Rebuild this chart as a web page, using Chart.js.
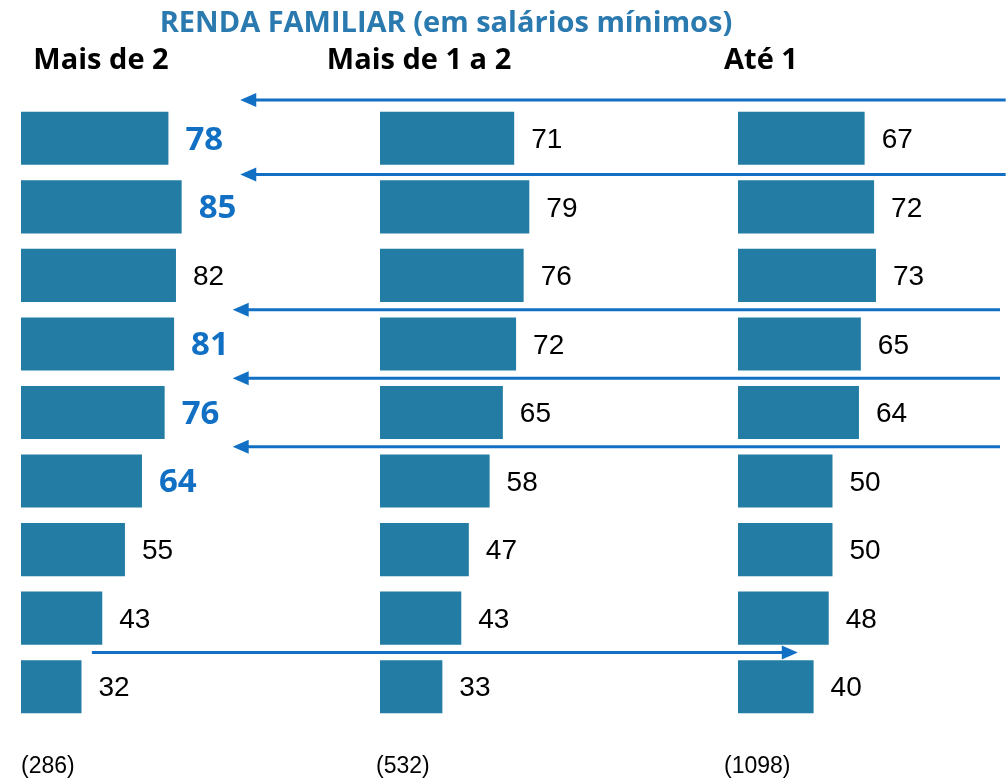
<!DOCTYPE html>
<html lang="pt-BR">
<head>
<meta charset="utf-8">
<title>Renda familiar</title>
<script src="https://cdn.jsdelivr.net/npm/chart.js@4/dist/chart.umd.min.js"></script>
<style>
  html, body { margin: 0; padding: 0; background: #ffffff; }
  #wrap { position: relative; width: 1006px; height: 782px; }
</style>
</head>
<body>
<div id="wrap"><canvas id="rendaChart"></canvas></div>
<script>
// Data
const rows = ['1', '2', '3', '4', '5', '6', '7', '8', '9'];
const groups = ['Mais de 2', 'Mais de 1 a 2', 'Até 1'];
const sampleSizes = ['(286)', '(532)', '(1098)'];
const maisDe2 = [78, 85, 82, 81, 76, 64, 55, 43, 32];
const maisDe1a2 = [71, 79, 76, 72, 65, 58, 47, 43, 33];
const ate1 = [67, 72, 73, 65, 64, 50, 50, 48, 40];
// rows of the first group shown in bold blue
const highlightMaisDe2 = [0, 1, 3, 4, 5];

const barColor = '#237ca4';
const accentBlue = '#1170c4';
const titleBlue = '#2a7ab0';

// every panel shares the same pixels-per-unit, each panel starts further right
const AREA_WIDTH = 985;
const PX_PER_UNIT = 1.89;
const panelStart = [0, 359, 717];

function panelScale(i) {
    return {
        type: 'linear',
        display: false,
        min: -panelStart[i] / PX_PER_UNIT,
        max: (AREA_WIDTH - panelStart[i]) / PX_PER_UNIT
    };
}

// arrows: row position (category index) and ends in units of the first panel
const arrows = [
    { row: -0.56, from: 521, to: 116 },
    { row: 0.53, from: 521, to: 116 },
    { row: 2.5, from: 518, to: 112 },
    { row: 3.5, from: 518, to: 112 },
    { row: 4.5, from: 518, to: 112 },
    { row: 7.5, from: 37.5, to: 411 }
];

const textPlugin = {
    id: 'textPlugin',
    afterDatasetsDraw(chart) {
        const ctx = chart.ctx;
        ctx.save();

        // value labels
        chart.data.datasets.forEach((ds, di) => {
            const meta = chart.getDatasetMeta(di);
            meta.data.forEach((bar, i) => {
                const strong = di === 0 && highlightMaisDe2.includes(i);
                ctx.font = strong ? 'bold 33px "Open Sans", sans-serif' : '28px "Liberation Sans", Arial, sans-serif';
                ctx.fillStyle = strong ? accentBlue : '#000000';
                ctx.textAlign = 'left';
                ctx.textBaseline = 'middle';
                ctx.fillText(String(ds.data[i]), bar.x + 17, bar.y + 2);
            });
        });

        // arrows
        const x = chart.scales.x1;
        const y = chart.scales.y;
        ctx.strokeStyle = accentBlue;
        ctx.fillStyle = accentBlue;
        ctx.lineWidth = 3;
        arrows.forEach(a => {
            const yy = y.getPixelForValue(a.row);
            const x0 = x.getPixelForValue(a.from);
            const x1 = x.getPixelForValue(a.to);
            const dir = x1 > x0 ? 1 : -1;
            ctx.beginPath();
            ctx.moveTo(x0, yy);
            ctx.lineTo(x1 - dir * 12, yy);
            ctx.stroke();
            ctx.beginPath();
            ctx.moveTo(x1, yy);
            ctx.lineTo(x1 - dir * 16, yy - 7);
            ctx.lineTo(x1 - dir * 16, yy + 7);
            ctx.closePath();
            ctx.fill();
        });

        // title, group headers and sample sizes
        ctx.textBaseline = 'alphabetic';
        ctx.textAlign = 'center';
        ctx.fillStyle = titleBlue;
        ctx.font = 'bold 29px "Open Sans", sans-serif';
        ctx.fillText('RENDA FAMILIAR (em salários mínimos)', 446, 32);

        const headerX = [101, 419, 761];
        ctx.fillStyle = '#000000';
        ctx.font = 'bold 29px "Open Sans", sans-serif';
        groups.forEach((g, i) => ctx.fillText(g, headerX[i], 69));

        const footerX = [21, 376, 724];
        ctx.textAlign = 'left';
        ctx.textBaseline = 'middle';
        ctx.font = '23px "Liberation Sans", Arial, sans-serif';
        sampleSizes.forEach((s, i) => ctx.fillText(s, footerX[i], 767));

        ctx.restore();
    }
};

const barStyle = {
    backgroundColor: barColor,
    borderColor: '#8fbfd6',
    borderWidth: 0,
    grouped: false,
    categoryPercentage: 1,
    barPercentage: 0.775
};

const ctx = document.getElementById('rendaChart').getContext('2d');
const rendaChart = new Chart(ctx, {
    type: 'bar',
    data: {
        labels: rows,
        datasets: [
            { label: groups[0], data: maisDe2, xAxisID: 'x1', ...barStyle },
            { label: groups[1], data: maisDe1a2, xAxisID: 'x2', ...barStyle },
            { label: groups[2], data: ate1, xAxisID: 'x3', ...barStyle }
        ]
    },
    options: {
        indexAxis: 'y',
        responsive: true,
        maintainAspectRatio: false,
        animation: false,
        layout: {
            padding: { left: 21, right: 0, top: 104, bottom: 61 }
        },
        plugins: {
            legend: { display: false },
            title: { display: false },
            tooltip: { enabled: false }
        },
        scales: {
            y: { type: 'category', display: false },
            x1: panelScale(0),
            x2: panelScale(1),
            x3: panelScale(2)
        }
    },
    plugins: [textPlugin]
});
</script>
</body>
</html>
